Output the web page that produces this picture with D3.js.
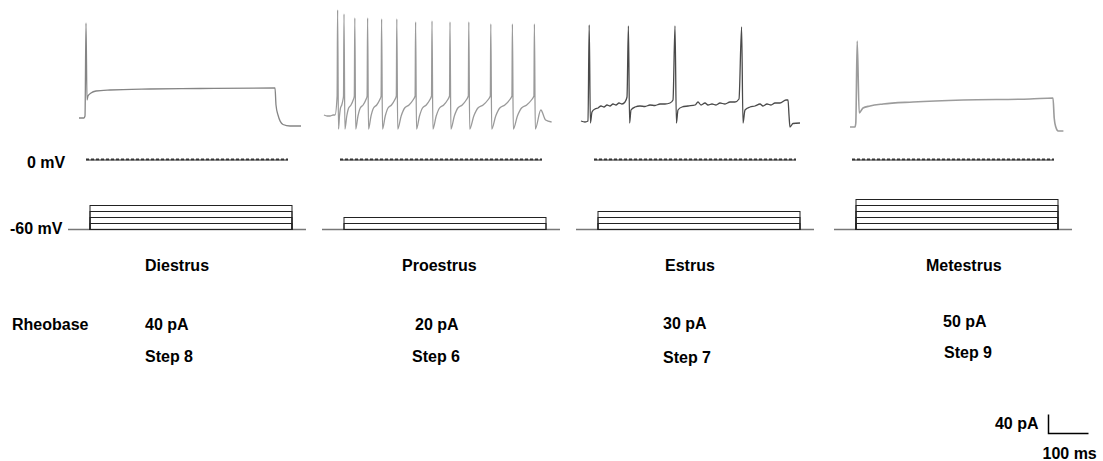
<!DOCTYPE html>
<html>
<head>
<meta charset="utf-8">
<script src="https://cdn.jsdelivr.net/npm/d3@7"></script>
<style>
body { margin: 0; background: #fff; }
text { font-family: "Liberation Sans", Arial, sans-serif; font-weight: bold; font-size: 16px; fill: #000; }
</style>
</head>
<body>
<svg id="chart" width="1103" height="461"></svg>
<script>
const stages = ["Diestrus", "Proestrus", "Estrus", "Metestrus"];
const rheobase = [40, 20, 30, 50];          // pA
const stepNumber = [8, 6, 7, 9];
const stepIncrement = 10;                   // pA per step
const stepDuration = 505;                   // ms

// voltage traces: t in ms from step onset, v in mV
const diestrusT = [-15, -2.5, 0, 2.5, 5, 7.5, 15, 27.5, 62.5, 162.5, 287.5, 475, 477.5, 482.5, 495, 512.5, 540];
const diestrusV = [-70, -70, -68, 25, -52, -48, -45, -43, -42, -41, -40.5, -40, -57, -67, -76.5, -78, -78];

const proestrusSpikeT = [4, 20, 47, 79, 114, 152, 199, 240, 285, 332, 387, 441, 496];
const proestrusSpikeV = [38, 34, 30, 30, 29, 29, 26, 27, 26, 26, 24, 24, 24];
const proestrusPreT = [-30, -22, -15, -7, -2.5];
const proestrusPreV = [-67, -68, -68, -67, -67];
const proestrusPostT = [512, 524, 539];
const proestrusPostV = [-62, -72, -74];

const estrusT = [-17.5, -7.5, 0, 3, 6, 10, 17.5, 25, 32.5, 40, 47.5, 55, 62.5, 70, 77.5, 85, 92.5, 97.5, 101, 104, 107.5, 117.5, 130, 142.5, 155, 167.5, 180, 192.5, 205, 212.5, 217.5, 221, 225, 235, 250, 267.5, 275, 282.5, 292.5, 300, 310, 320, 330, 342.5, 355, 367.5, 377.5, 384, 387.5, 392.5, 405, 417.5, 430, 437.5, 447.5, 457.5, 467.5, 480, 495, 500, 502.5, 505, 512.5, 530];
const estrusV = [-73, -74, -73, 23, -75, -64, -61, -60, -58, -59, -57, -58, -56, -57, -55, -56, -54, -49, 22, -75, -62, -59, -58, -58.5, -57, -57.5, -56, -56, -55, -52, 22, -75, -62, -59, -58, -57, -54, -57, -55, -57, -56, -57, -55, -56, -54, -54, -51, 21, -75, -62, -59, -58, -56, -58, -56, -57, -55, -55, -52, -52, -67, -79, -75.5, -75];

const metestrusT = [-12.5, 0, 2, 5.5, 10.5, 20, 37.5, 70, 145, 270, 437.5, 495, 498, 502, 508, 521];
const metestrusV = [-79, -79, -75, 7, -65, -60, -58, -56, -54, -52, -51, -50, -70, -79, -83, -83];

// layout
const traceX = [85, 336, 588, 855];
const protoX = [90, 344, 598, 856];
const nameX = [145, 402, 665, 926];
const pAX = [145, 415, 663, 943], pAY = [330, 330, 329, 327];
const stepX = [145, 412, 663, 944], stepY = [362, 362, 363, 358];
const traceColor = ["#858585", "#9a9a9a", "#4a4a4a", "#9c9c9c"];

const svg = d3.select("#chart");

const tScale = d3.scaleLinear().domain([0, 100]).range([0, 40]);
const vScale = d3.scaleLinear().domain([-70, 30]).range([118, 18]);
const iScale = d3.scaleLinear().domain([0, 10]).range([229, 223]);
const barScale = d3.scaleLinear().domain([0, 40]).range([0, 19]);

// proestrus: spike times/peaks, drawn with one spike/ISI shape
const troughV = -81, thresholdV = -48;
const isiFrac = [0.2, 0.4, 0.65, 0.88], isiV = [-68, -60, -57, -52];
let proestrus = proestrusPreT.map((t, i) => [t, proestrusPreV[i]]);
proestrusSpikeT.forEach((ts, i) => {
    proestrus.push([ts - 1.2, thresholdV], [ts, proestrusSpikeV[i]], [ts + 2.2, troughV]);
    if (i < proestrusSpikeT.length - 1) {
        let isi = proestrusSpikeT[i + 1] - ts;
        isiFrac.forEach((f, k) => proestrus.push([ts + 2.2 + f * (isi - 3.4), isiV[k]]));
    }
});
proestrusPostT.forEach((t, i) => proestrus.push([t, proestrusPostV[i]]));

const traces = [
    diestrusT.map((t, i) => [t, diestrusV[i]]),
    proestrus,
    estrusT.map((t, i) => [t, estrusV[i]]),
    metestrusT.map((t, i) => [t, metestrusV[i]])
];

const line = d3.line()
    .x(d => tScale(d[0]))
    .y(d => vScale(d[1]))
    .curve(d3.curveMonotoneX);

let panels = svg.selectAll(".panel")
    .data(stages)
    .enter().append("g")
    .attr("class", "panel");

// voltage traces
panels.append("path")
    .attr("transform", (d, i) => `translate(${traceX[i]},0)`)
    .attr("d", (d, i) => line(traces[i]))
    .attr("fill", "none")
    .attr("stroke", (d, i) => traceColor[i])
    .attr("stroke-width", (d, i) => i === 3 ? 1.6 : 1.3)
    .attr("stroke-linejoin", "round");

// 0 mV holding trace
panels.append("line")
    .attr("x1", (d, i) => protoX[i] - 4)
    .attr("x2", (d, i) => protoX[i] - 4 + tScale(stepDuration))
    .attr("y1", 160).attr("y2", 160)
    .attr("stroke", "#222").attr("stroke-width", 1);
panels.append("line")
    .attr("x1", (d, i) => protoX[i] - 4)
    .attr("x2", (d, i) => protoX[i] - 4 + tScale(stepDuration))
    .attr("y1", 159.3).attr("y2", 159.3)
    .attr("stroke", "#333").attr("stroke-width", 1.8)
    .attr("stroke-dasharray", "3,2");

// current step protocol
let proto = panels.append("g")
    .attr("transform", (d, i) => `translate(${protoX[i]},0.5)`);

proto.append("line")
    .attr("x1", -22)
    .attr("x2", tScale(stepDuration) + 14)
    .attr("y1", iScale(0)).attr("y2", iScale(0))
    .attr("stroke", "#777").attr("stroke-width", 1.3);

proto.selectAll("rect")
    .data((d, i) => d3.range(1, rheobase[i] / stepIncrement + 1).map(k => k * stepIncrement))
    .enter().append("rect")
    .attr("x", 0)
    .attr("y", d => iScale(d))
    .attr("width", tScale(stepDuration))
    .attr("height", d => iScale(0) - iScale(d))
    .attr("fill", "none")
    .attr("stroke", "#222")
    .attr("stroke-width", 1);

// labels
panels.append("text")
    .attr("x", (d, i) => nameX[i]).attr("y", 271)
    .text(d => d);
panels.append("text")
    .attr("x", (d, i) => pAX[i]).attr("y", (d, i) => pAY[i])
    .text((d, i) => rheobase[i] + " pA");
panels.append("text")
    .attr("x", (d, i) => stepX[i]).attr("y", (d, i) => stepY[i])
    .text((d, i) => "Step " + stepNumber[i]);

svg.append("text").attr("x", 12).attr("y", 330).text("Rheobase");
svg.append("text").attr("x", 27).attr("y", 168).text("0 mV");
svg.append("text").attr("x", 10).attr("y", 234).text("-60 mV");

// scale bar
let bar = svg.append("g").attr("transform", "translate(1048.5,433.5)");
bar.append("path")
    .attr("d", `M0,${-barScale(40)}V0H${tScale(100)}`)
    .attr("fill", "none")
    .attr("stroke", "#000")
    .attr("stroke-width", 1.5);
bar.append("text").attr("x", -10).attr("y", -5).attr("text-anchor", "end").text("40 pA");
bar.append("text").attr("x", -6).attr("y", 25).text("100 ms");
</script>
</body>
</html>
